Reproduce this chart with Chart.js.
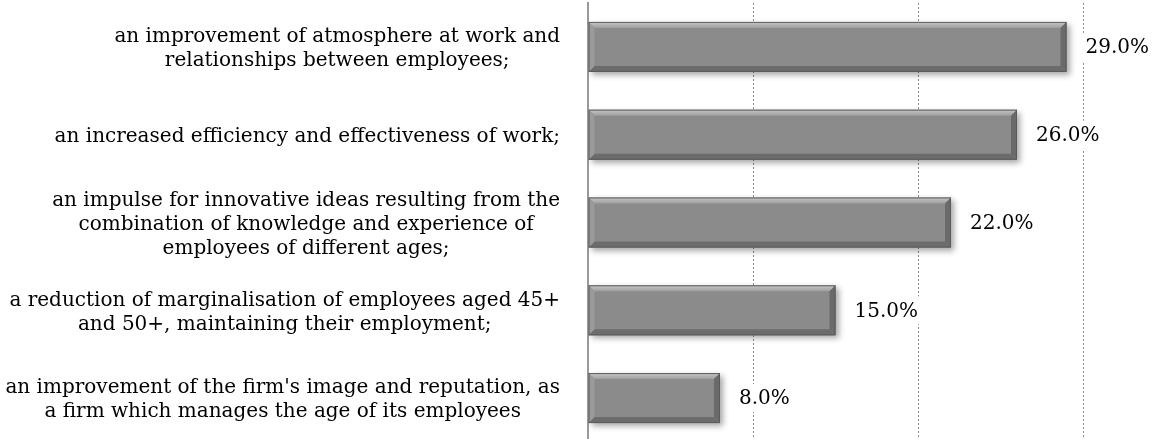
<!DOCTYPE html>
<html>
<head>
<meta charset="utf-8">
<script src="https://cdn.jsdelivr.net/npm/chart.js@4.4.1/dist/chart.umd.min.js"></script>
<style>
  html, body { margin: 0; padding: 0; background: #fff; overflow: hidden; }
  #wrap { position: relative; width: 1153px; height: 442px; }
</style>
</head>
<body>
<div id="wrap"><canvas id="barChart"></canvas></div>
<script>
// Categories (label lines), values in %, axis ticks
const categories = [
    ['an improvement of atmosphere at work and', 'relationships between employees;'],
    ['an increased efficiency and effectiveness of work;'],
    ['an impulse for innovative ideas resulting from the', 'combination of knowledge and experience of', 'employees of different ages;'],
    ['a reduction of marginalisation of employees aged 45+', 'and 50+, maintaining their employment;'],
    ["an improvement of the firm's image and reputation, as", 'a firm which manages the age of its employees']
];
const values = [29, 26, 22, 15, 8];
const xTicks = [0, 10, 20, 30];

const FONT = '"DejaVu Serif", serif';
const LABEL_SIZE = 20;
const LINE_H = 24;

// Shadow under the bars
const shadowPlugin = {
    id: 'barShadow',
    beforeDatasetsDraw(chart) {
        const ctx = chart.ctx;
        ctx.save();
        ctx.shadowColor = 'rgba(0,0,0,0.35)';
        ctx.shadowBlur = 6;
        ctx.shadowOffsetX = 3;
        ctx.shadowOffsetY = 3;
    },
    afterDatasetsDraw(chart) {
        chart.ctx.restore();
    }
};

// Bevel edges, category labels and value labels
const decoPlugin = {
    id: 'deco',
    afterDatasetsDraw(chart) {
        const ctx = chart.ctx;
        const meta = chart.getDatasetMeta(0);
        const b = 6;
        meta.data.forEach((bar) => {
            const p = bar.getProps(['x', 'y', 'base', 'height'], true);
            const l = p.base, r = p.x, t = p.y - p.height / 2, bt = p.y + p.height / 2;
            // top bevel
            let g = ctx.createLinearGradient(0, t, 0, t + b);
            g.addColorStop(0, '#c8c8c8');
            g.addColorStop(1, '#9e9e9e');
            ctx.fillStyle = g;
            ctx.beginPath();
            ctx.moveTo(l, t); ctx.lineTo(r, t); ctx.lineTo(r - b, t + b); ctx.lineTo(l + b, t + b);
            ctx.closePath(); ctx.fill();
            // bottom bevel
            ctx.fillStyle = '#6c6c6c';
            ctx.beginPath();
            ctx.moveTo(l, bt); ctx.lineTo(r, bt); ctx.lineTo(r - b, bt - b); ctx.lineTo(l + b, bt - b);
            ctx.closePath(); ctx.fill();
            // right bevel
            ctx.fillStyle = '#6a6a6a';
            ctx.beginPath();
            ctx.moveTo(r, t); ctx.lineTo(r, bt); ctx.lineTo(r - b, bt - b); ctx.lineTo(r - b, t + b);
            ctx.closePath(); ctx.fill();
            // left bevel
            ctx.fillStyle = '#9a9a9a';
            ctx.beginPath();
            ctx.moveTo(l, t); ctx.lineTo(l, bt); ctx.lineTo(l + b, bt - b); ctx.lineTo(l + b, t + b);
            ctx.closePath(); ctx.fill();
            ctx.strokeStyle = '#5a5a5a';
            ctx.lineWidth = 1;
            ctx.strokeRect(l + 0.5, t + 0.5, r - l - 1, bt - t - 1);
        });

        // value labels with white background (breaks the gridlines)
        ctx.font = LABEL_SIZE + 'px ' + FONT;
        ctx.textBaseline = 'middle';
        ctx.textAlign = 'left';
        meta.data.forEach((bar, i) => {
            const txt = values[i].toFixed(1) + '%';
            const w = ctx.measureText(txt).width;
            const x0 = bar.x + 19;
            ctx.fillStyle = '#fff';
            ctx.fillRect(x0 - 4, bar.y - 14, w + 8, 28);
            ctx.fillStyle = '#000';
            ctx.fillText(txt, x0, bar.y + 1);
        });

        // category labels: lines centred within block, block right-aligned
        const yScale = chart.scales.y;
        const rightEdge = chart.chartArea.left - 28;
        ctx.textAlign = 'center';
        ctx.fillStyle = '#000';
        categories.forEach((lines, i) => {
            const cy = yScale.getPixelForTick(i) + 2;
            const widest = Math.max(...lines.map(s => ctx.measureText(s).width));
            const cx = rightEdge - widest / 2;
            const y0 = cy - (lines.length - 1) * LINE_H / 2;
            lines.forEach((s, k) => ctx.fillText(s, cx, y0 + k * LINE_H));
        });
    }
};

const ctx = document.getElementById('barChart').getContext('2d');
const chart = new Chart(ctx, {
    type: 'bar',
    data: {
        labels: categories.map(c => c.join(' ')),
        datasets: [{
            data: values,
            backgroundColor: '#8b8b8b',
            borderWidth: 0,
            barPercentage: 0.57,
            categoryPercentage: 1
        }]
    },
    options: {
        indexAxis: 'y',
        responsive: true,
        maintainAspectRatio: false,
        animation: false,
        layout: { padding: { left: 588, right: 70, top: 3, bottom: 0 } },
        scales: {
            x: {
                min: xTicks[0],
                max: xTicks[xTicks.length - 1],
                afterBuildTicks: (axis) => { axis.ticks = xTicks.map(v => ({ value: v })); },
                ticks: { display: false },
                grid: { color: '#8a8a8a', lineWidth: 1, drawTicks: false },
                border: { display: false, dash: [2, 2] }
            },
            y: {
                ticks: { display: false },
                grid: { display: false, drawTicks: false },
                border: { display: true, color: '#9a9a9a', width: 2 }
            }
        },
        plugins: {
            legend: { display: false },
            tooltip: { enabled: false }
        }
    },
    plugins: [shadowPlugin, decoPlugin]
});
</script>
</body>
</html>
